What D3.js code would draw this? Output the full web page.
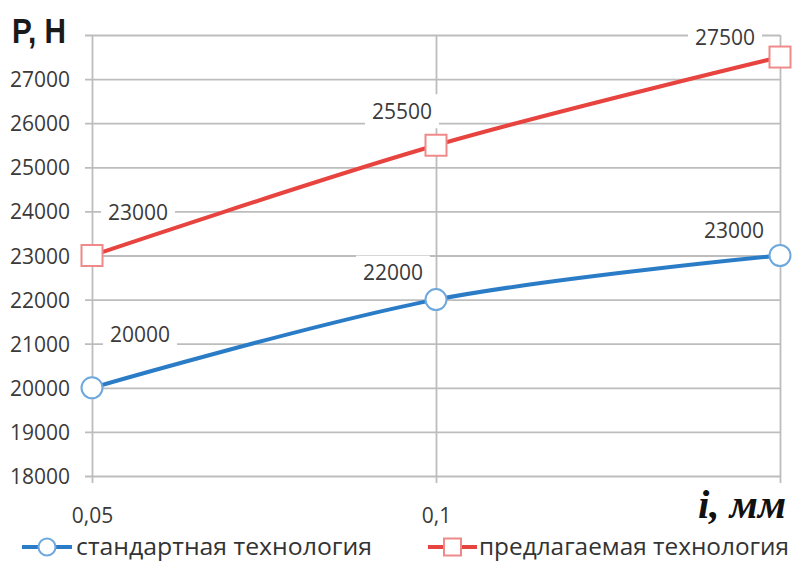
<!DOCTYPE html>
<html>
<head>
<meta charset="utf-8">
<script src="https://cdn.jsdelivr.net/npm/d3@7"></script>
<style>
  html, body { margin: 0; padding: 0; background: #ffffff; }
  svg { display: block; }
</style>
</head>
<body>
<svg id="chart" width="797" height="562"></svg>
<script>
// Feed rate i (mm) and cutting force P (N) for the two technologies
const xValues = [0.05, 0.1, 0.15];
const xTickLabels = ["0,05", "0,1"];
const standardValues = [20000, 22000, 23000];
const proposedValues = [23000, 25500, 27500];
const seriesNames = ["стандартная технология", "предлагаемая технология"];
const yTickValues = [18000, 19000, 20000, 21000, 22000, 23000, 24000, 25000, 26000, 27000, 28000];
const yTickLabels = ["18000", "19000", "20000", "21000", "22000", "23000", "24000", "25000", "26000", "27000", ""];
const yAxisTitle = "P, H";
const xAxisTitle = "i, мм";

// Where each value label sits relative to its point (px)
const standardLabelOffsets = [[48, -53], [-43, -27], [-46, -25]];
const proposedLabelOffsets = [[46, -43], [-34, -34], [-55, -20]];

const svg = d3.select("#chart");
const W = 797, H = 562;
const plot = { left: 92, right: 780, top: 35, bottom: 476 };

const x = d3.scaleLinear().domain([0.05, 0.15]).range([plot.left, plot.right]);
const y = d3.scaleLinear().domain([18000, 28000]).range([plot.bottom, plot.top]);

const gridColor = "#bdbdbd";
const textColor = "#3a3a3a";
const numFont = "'Open Sans', 'Liberation Sans', sans-serif";
const blue = "#2b7cc7", blueMarker = "#6ea8dc";
const red = "#e8443f", redMarker = "#f08a8a";

svg.append("rect").attr("width", W).attr("height", H).attr("fill", "#fff");

// Horizontal gridlines with short outward ticks on the left
const yAxis = d3.axisLeft(y)
  .tickValues(yTickValues)
  .tickSize(plot.right - plot.left + 7)
  .tickFormat((d, i) => yTickLabels[i]);
const gy = svg.append("g")
  .attr("transform", `translate(${plot.right},0)`)
  .call(yAxis);
gy.select(".domain").remove();
gy.selectAll(".tick line").attr("stroke", gridColor).attr("stroke-width", 1.8);
gy.selectAll(".tick text")
  .attr("x", -(plot.right - 70))
  .attr("dy", "0.36em")
  .attr("fill", textColor)
  .style("font-family", numFont)
  .style("font-size", "21px")
  .attr("text-anchor", "end");

// Vertical gridlines at each category, extending below as ticks
const xAxis = d3.axisBottom(x)
  .tickValues(xValues)
  .tickSize(plot.bottom - plot.top + 7)
  .tickFormat((d, i) => xTickLabels[i] || "");
const gx = svg.append("g")
  .attr("transform", `translate(0,${plot.top})`)
  .call(xAxis);
gx.select(".domain").remove();
gx.selectAll(".tick line").attr("stroke", gridColor).attr("stroke-width", 1.8);
gx.selectAll(".tick text")
  .attr("y", 523 - plot.top)
  .attr("dy", 0)
  .attr("fill", textColor)
  .style("font-family", numFont)
  .style("font-size", "21px");

// Value labels: white boxes first so they cut the gridlines
const series = [
  { values: standardValues, offsets: standardLabelOffsets, color: blue, marker: "circle", markerStroke: blueMarker },
  { values: proposedValues, offsets: proposedLabelOffsets, color: red, marker: "square", markerStroke: redMarker }
];

const labelLayer = svg.append("g");
series.forEach(s => {
  s.values.forEach((v, i) => {
    const cx = x(xValues[i]) + s.offsets[i][0];
    const cy = y(v) + s.offsets[i][1];
    labelLayer.append("rect")
      .attr("x", cx - 37).attr("y", cy - 17)
      .attr("width", 74).attr("height", 34)
      .attr("fill", "#fff");
  });
});

// Smoothed series lines
const line = d3.line()
  .x((d, i) => x(xValues[i]))
  .y(d => y(d))
  .curve(d3.curveCatmullRom.alpha(0));

series.forEach(s => {
  svg.append("path")
    .datum(s.values)
    .attr("fill", "none")
    .attr("stroke", s.color)
    .attr("stroke-width", 4)
    .attr("stroke-linecap", "round")
    .attr("d", line);
});

// Markers
series.forEach(s => {
  const g = svg.append("g");
  s.values.forEach((v, i) => {
    const px = x(xValues[i]), py = y(v);
    if (s.marker === "circle") {
      g.append("circle").attr("cx", px).attr("cy", py).attr("r", 10.5)
        .attr("fill", "#fff").attr("stroke", s.markerStroke).attr("stroke-width", 2);
    } else {
      g.append("rect").attr("x", px - 10.5).attr("y", py - 10.5)
        .attr("width", 21).attr("height", 21)
        .attr("fill", "#fff").attr("stroke", s.markerStroke).attr("stroke-width", 2);
    }
  });
});

// Value label text
series.forEach(s => {
  s.values.forEach((v, i) => {
    const cx = x(xValues[i]) + s.offsets[i][0];
    const cy = y(v) + s.offsets[i][1];
    svg.append("text")
      .attr("x", cx).attr("y", cy).attr("dy", "0.36em")
      .attr("text-anchor", "middle")
      .attr("fill", textColor)
      .style("font-family", numFont)
      .style("font-size", "21px")
      .text(v);
  });
});

// Axis titles
svg.append("text")
  .attr("x", 12).attr("y", 43)
  .attr("fill", "#1a1a1a")
  .attr("textLength", 54)
  .attr("lengthAdjust", "spacingAndGlyphs")
  .style("font-family", "'Liberation Sans Narrow', 'Liberation Sans', sans-serif")
  .style("font-weight", "bold")
  .style("font-size", "35px")
  .text(yAxisTitle);

svg.append("text")
  .attr("x", 786).attr("y", 518)
  .attr("text-anchor", "end")
  .attr("fill", "#111")
  .style("font-family", "'Liberation Serif', 'DejaVu Serif', serif")
  .style("font-weight", "bold")
  .style("font-style", "italic")
  .style("font-size", "41px")
  .text(xAxisTitle);

// Legend
const legendY = 547;
const legend = [
  { x0: 22, x1: 72, color: blue, marker: "circle", markerStroke: blueMarker, tx: 76, len: 296, name: seriesNames[0] },
  { x0: 428, x1: 477, color: red, marker: "square", markerStroke: redMarker, tx: 479, len: 310, name: seriesNames[1] }
];
legend.forEach(l => {
  svg.append("line").attr("x1", l.x0).attr("x2", l.x1)
    .attr("y1", legendY).attr("y2", legendY)
    .attr("stroke", l.color).attr("stroke-width", 4);
  const mx = (l.x0 + l.x1) / 2;
  if (l.marker === "circle") {
    svg.append("circle").attr("cx", mx).attr("cy", legendY).attr("r", 8.5)
      .attr("fill", "#fff").attr("stroke", l.markerStroke).attr("stroke-width", 2);
  } else {
    svg.append("rect").attr("x", mx - 8.5).attr("y", legendY - 8.5)
      .attr("width", 17).attr("height", 17)
      .attr("fill", "#fff").attr("stroke", l.markerStroke).attr("stroke-width", 2);
  }
  svg.append("text")
    .attr("x", l.tx).attr("y", legendY).attr("dy", "0.34em")
    .attr("fill", "#333")
    .attr("textLength", l.len)
    .attr("lengthAdjust", "spacingAndGlyphs")
    .style("font-family", numFont)
    .style("font-size", "23px")
    .text(l.name);
});
</script>
</body>
</html>
